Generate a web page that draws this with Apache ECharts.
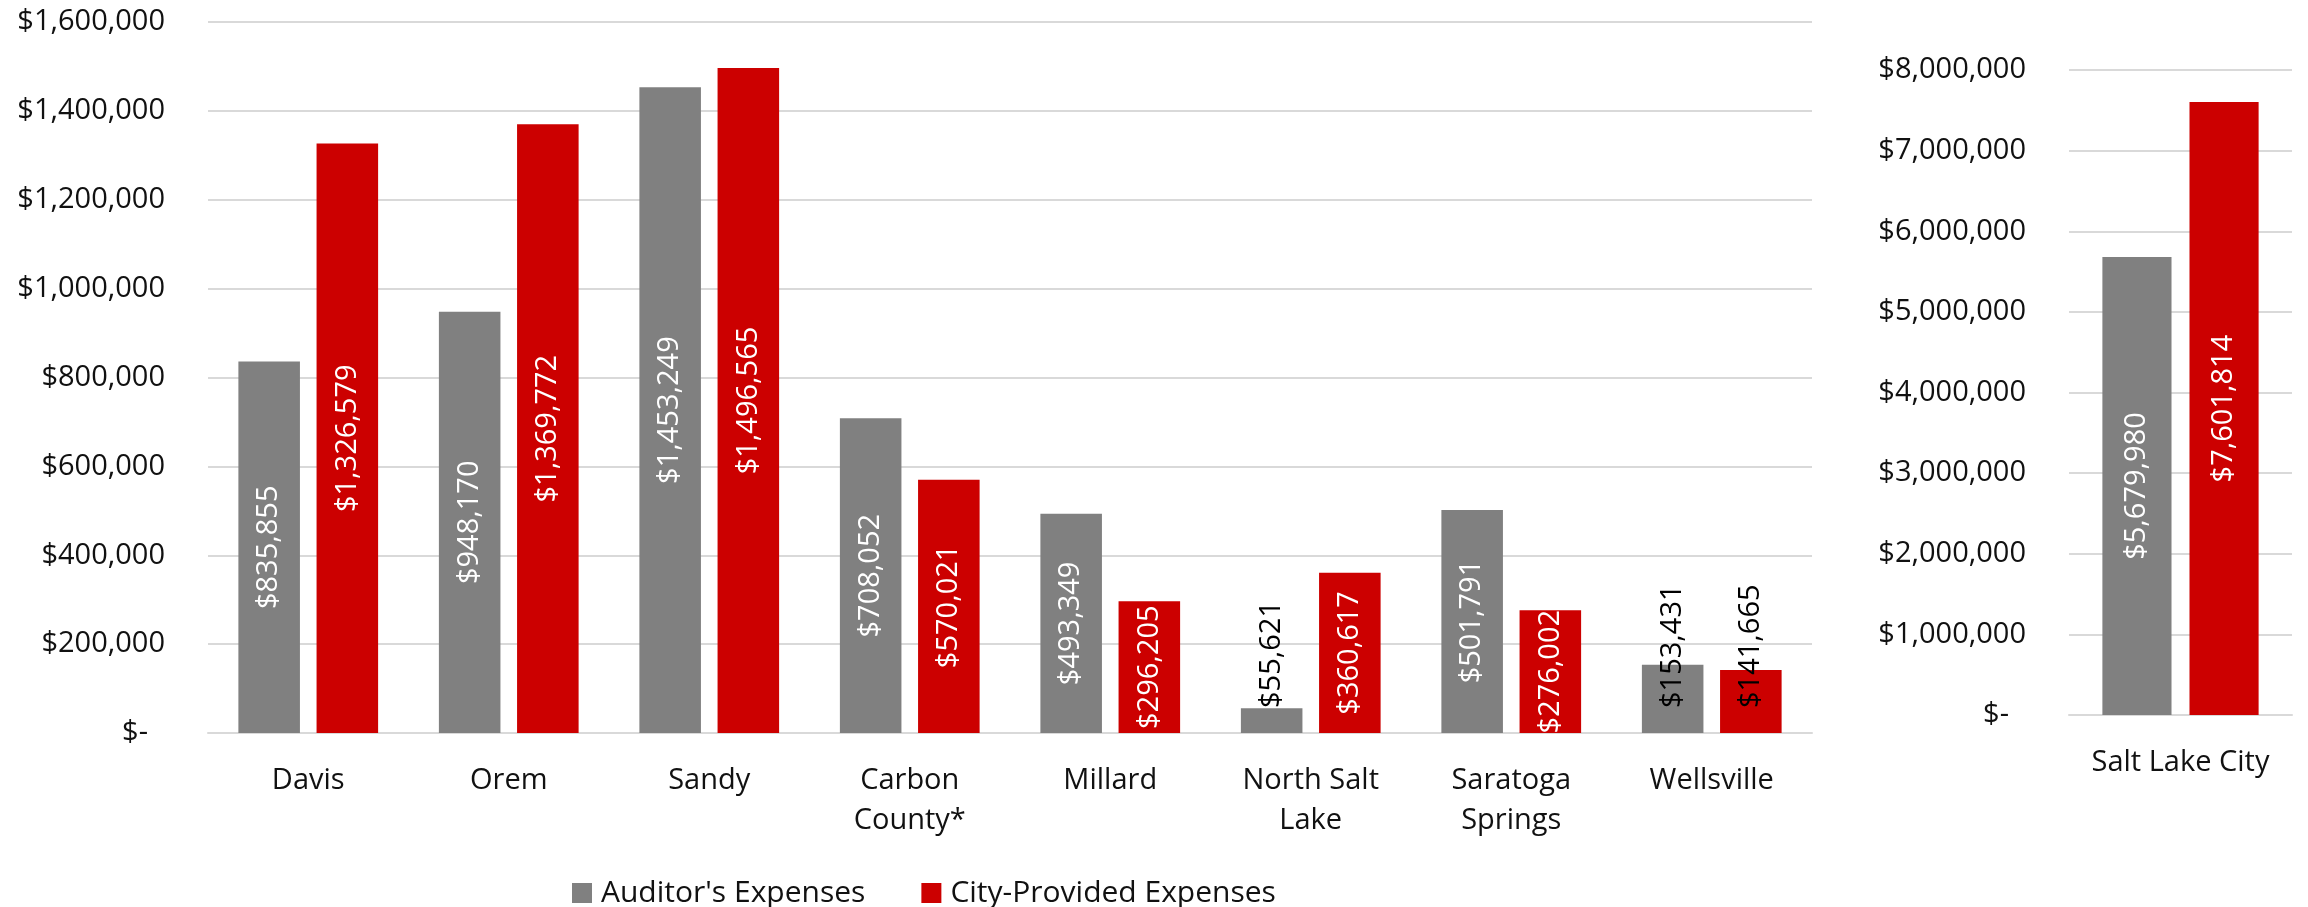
<!DOCTYPE html>
<html>
<head>
<meta charset="utf-8">
<script src="https://cdn.jsdelivr.net/npm/echarts@6/dist/echarts.min.js"></script>
<style>
html,body{margin:0;padding:0;background:#fff;}
#chart{width:2308px;height:907px;}
</style>
</head>
<body>
<div id="chart"></div>
<script>
// ---- data ----
var categories = ['Davis', 'Orem', 'Sandy', 'Carbon\nCounty*', 'Millard', 'North Salt\nLake', 'Saratoga\nSprings', 'Wellsville'];
var auditorExpenses = [835855, 948170, 1453249, 708052, 493349, 55621, 501791, 153431];
var cityExpenses = [1326579, 1369772, 1496565, 570021, 296205, 360617, 276002, 141665];
var bigCategories = ['Salt Lake City'];
var bigAuditor = [5679980];
var bigCity = [7601814];
var seriesNames = ["Auditor's Expenses", 'City-Provided Expenses'];

var GRAY = '#808080', RED = '#cc0000', TXT = '#111111', GRID = '#d9d9d9';
var FONT = '"Open Sans", "Noto Sans", sans-serif';
var FS = 29;

function money(v) { return '$' + Number(v).toLocaleString('en-US'); }
function yFmt(v) { return v === 0 ? '{z|$-}' : money(v); }

function barData(vals) {
  return vals.map(function (v) {
    if (v < 200000) {
      return {
        value: v,
        label: {
          position: 'insideBottom', distance: 25, rotate: 90,
          align: 'left', verticalAlign: 'middle', color: '#000'
        }
      };
    }
    return v;
  });
}

var baseLabel = {
  show: true, position: 'inside', rotate: 90, align: 'center', verticalAlign: 'middle',
  color: '#fff', fontFamily: FONT, fontSize: FS,
  formatter: function (p) { return money(p.value); }
};

function yAxis(gi, max, interval) {
  return {
    type: 'value', gridIndex: gi, min: 0, max: max, interval: interval,
    axisLine: { show: false }, axisTick: { show: false },
    splitLine: { lineStyle: { color: GRID, width: 2 } },
    axisLabel: {
      margin: 43, color: TXT, fontFamily: FONT, fontSize: FS, formatter: yFmt,
      rich: { z: { padding: [0, 17, 0, 0], color: TXT, fontFamily: FONT, fontSize: FS } }
    }
  };
}
function xAxis(gi, data) {
  return {
    type: 'category', gridIndex: gi, data: data,
    axisLine: { lineStyle: { color: GRID, width: 2 } }, axisTick: { show: false },
    axisLabel: { margin: 28, color: TXT, fontFamily: FONT, fontSize: FS, lineHeight: 40, interval: 0 }
  };
}

var chart = echarts.init(document.getElementById('chart'));
chart.setOption({
  backgroundColor: '#fff',
  animation: false,
  grid: [
    { left: 208, right: 496, top: 22, bottom: 174 },
    { left: 2069, right: 16, top: 70, bottom: 192 }
  ],
  legend: {
    data: seriesNames, left: 567, top: 873, icon: 'rect', itemWidth: 20, itemHeight: 20, itemGap: 56,
    textStyle: { color: TXT, fontFamily: FONT, fontSize: 30, padding: [0, 0, 0, 4] }
  },
  xAxis: [xAxis(0, categories), xAxis(1, bigCategories)],
  yAxis: [yAxis(0, 1600000, 200000), yAxis(1, 8000000, 1000000)],
  series: [
    { name: seriesNames[0], type: 'bar', xAxisIndex: 0, yAxisIndex: 0, data: barData(auditorExpenses),
      itemStyle: { color: GRAY }, barWidth: '30.7%', barGap: '27%', label: baseLabel },
    { name: seriesNames[1], type: 'bar', xAxisIndex: 0, yAxisIndex: 0, data: barData(cityExpenses),
      itemStyle: { color: RED }, barWidth: '30.7%', barGap: '27%', label: baseLabel },
    { name: seriesNames[0], type: 'bar', xAxisIndex: 1, yAxisIndex: 1, data: barData(bigAuditor),
      itemStyle: { color: GRAY }, barWidth: '31%', barGap: '26%', label: baseLabel },
    { name: seriesNames[1], type: 'bar', xAxisIndex: 1, yAxisIndex: 1, data: barData(bigCity),
      itemStyle: { color: RED }, barWidth: '31%', barGap: '26%', label: baseLabel }
  ]
});
</script>
</body>
</html>
